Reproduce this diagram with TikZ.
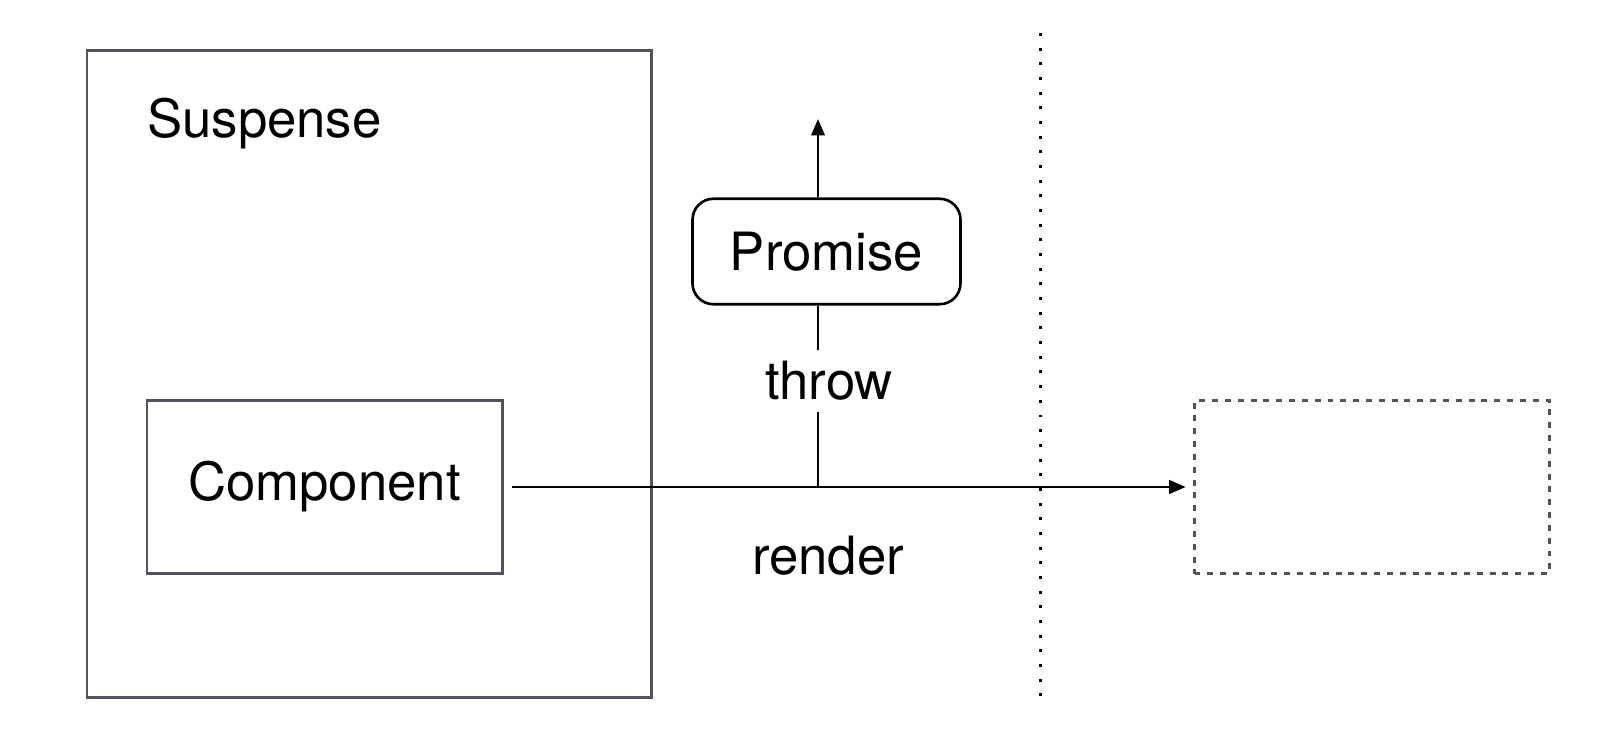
\documentclass[tikz,border=0pt]{standalone}
\usepackage{fontspec}
\setmainfont{TeX Gyre Heros}
\usetikzlibrary{positioning,arrows.meta}

\definecolor{frame}{HTML}{50555D}

\begin{document}
\begin{tikzpicture}[
	font=\fontsize{30}{36}\selectfont,
	text centered,
	box/.style={
		rectangle,
		draw=frame,
		line width=1.7pt
	},
	prom/.style={
		rectangle,
		draw=black,
		rounded corners=0.42cm,
		line width=1.5pt,
		minimum width=5.36cm,
		minimum height=2.11cm
	},
	ghost/.style={
		rectangle,
		draw=frame,
		line width=1.5pt,
		dash pattern=on 3.4pt off 3.9pt
	},
	lbl/.style={
		inner sep=6pt
	},
	flow/.style={
		line width=1.5pt,
		-{Triangle[length=0.33cm,width=0.27cm]}
	}
	]
	\useasboundingbox (0,0) rectangle (32.48,15);

	\node [box, minimum width=11.28cm, minimum height=12.94cm] (Suspense) at (7.38,7.515) {};
	\node [anchor=west] (SusLabel) at (2.82,12.52) {Suspense};
	\node [box, minimum width=7.10cm, minimum height=3.46cm] (Component) at (6.49,5.26) {Component};
	\node [ghost, minimum width=7.10cm, minimum height=3.46cm] (Target) at (27.44,5.26) {};

	\node [prom] (Promise) at (16.53,9.97) {Promise};
	\node [lbl] (Throw) at (16.58,7.38) {throw};
	\node [lbl] (Render) at (16.56,3.88) {render};

	\coordinate (Fork) at (16.36,5.26);
	\coordinate (Up) at (16.36,12.62);

	% render arrow
	\draw [flow, shorten <=0.17cm, shorten >=0.15cm] (Component.east) -- (Target.west);

	% throw path
	\draw [line width=1.5pt] (Fork) -- (Fork |- Throw.south);
	\draw [line width=1.5pt] (Fork |- Throw.north) -- (Fork |- Promise.south);
	\draw [flow] (Fork |- Promise.north) -- (Up);

	% boundary
	\draw [line width=1.3pt, dash pattern=on 1.7pt off 6.65pt] (20.81,14.34) -- (20.81,0.92);

\end{tikzpicture}
\end{document}
